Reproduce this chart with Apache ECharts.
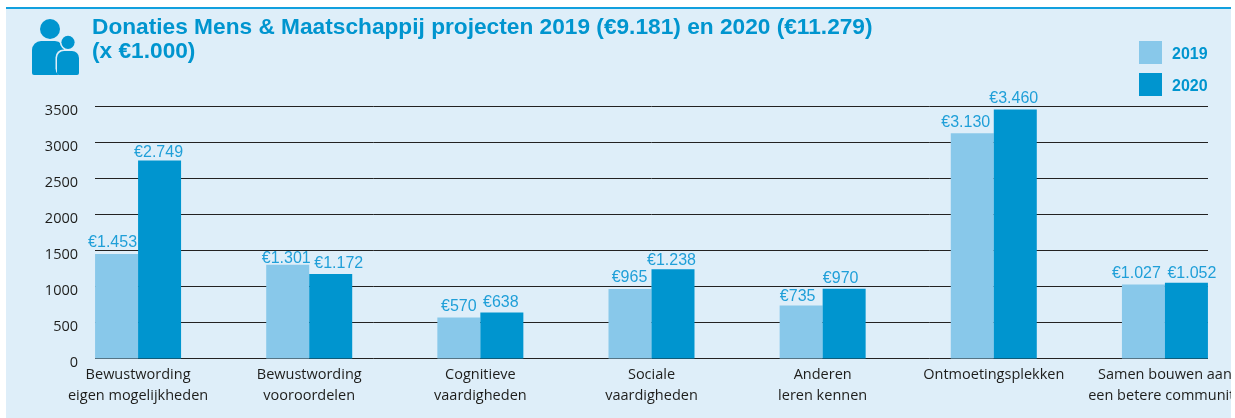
<!DOCTYPE html>
<html><head><meta charset="utf-8">
<style>html,body{margin:0;padding:0;background:#fff}#c{width:1235px;height:418px}</style>
<script src="https://cdn.jsdelivr.net/npm/echarts@6/dist/echarts.min.js"></script>
</head><body><div id="c"></div>
<script>
const categories = ['Bewustwording\neigen mogelijkheden','Bewustwording\nvooroordelen','Cognitieve\nvaardigheden','Sociale\nvaardigheden','Anderen\nleren kennen','Ontmoetingsplekken','Samen bouwen aan\neen betere community'];
const values2019 = [1453,1301,570,965,735,3130,1027];
const values2020 = [2749,1172,638,1238,970,3460,1052];
const labelShift2019 = [[-4,0],[-1.5,5],[0,0],[-0.5,0],[-3.5,2],[-6.5,0],[-7,0]];
const labelShift2020 = [[-1,3],[8,0],[-1,1],[-1.5,2],[-3.5,1],[-1.5,0],[5.5,2]];
const titleText = 'Donaties Mens & Maatschappij projecten 2019 (€9.181) en 2020 (€11.279)\n(x €1.000)';

const PANEL='#DEEEF9', LIGHT='#88C8EA', DARK='#0095CF', LABEL='#1F9FD8', INK='#1d1d1b';
const euro = v => '€' + (v >= 1000 ? Math.floor(v/1000) + '.' + String(v%1000).padStart(3,'0') : v);
const mk = (vals, shifts) => vals.map((v,i)=>({value:v,label:{offset:shifts[i]}}));
const series = (name, vals, shifts, color) => ({
  name, type:'bar', xAxisIndex:0, yAxisIndex:0, data:mk(vals,shifts), barWidth:43, barGap:0,
  itemStyle:{color}, z:3,
  label:{show:true,position:'top',distance:3,color:LABEL,fontFamily:'Liberation Sans',fontSize:16,
    formatter:p=>euro(p.value)}
});
const chart = echarts.init(document.getElementById('c'),null,{renderer:'canvas'});
chart.setOption({
  animation:false,
  backgroundColor:'#fff',
  title:{text:titleText,left:87,top:10,textStyle:{color:DARK,fontFamily:'Liberation Sans',fontWeight:'bold',fontSize:22.7,lineHeight:24.5}},
  legend:{orient:'vertical',left:1134,top:36,itemWidth:23,itemHeight:23,itemGap:9,icon:'rect',
    formatter:n=>'{a|'+n+'}',
    textStyle:{rich:{a:{color:DARK,fontFamily:'Liberation Sans',fontWeight:'bold',fontSize:16,padding:[4,0,0,5]}}},data:['2019','2020']},
  grid:[
    {left:52.5,top:106.5,width:1198,height:252,outerBoundsMode:'none'},
    {left:95,top:106.5,width:1113,height:252,outerBoundsMode:'none'}
  ],
  xAxis:[
    {type:'category',gridIndex:0,data:categories,axisLine:{show:false},axisTick:{show:false},
      axisLabel:{interval:0,margin:6,color:INK,fontFamily:'Open Sans',fontSize:14.5,lineHeight:21,hideOverlap:false}},
    {type:'value',gridIndex:1,show:false,min:0,max:1}
  ],
  yAxis:[
    {type:'value',gridIndex:0,min:0,max:3500,interval:500,show:false},
    {type:'value',gridIndex:1,min:0,max:3500,interval:500,axisLine:{show:false},axisTick:{show:false},
      splitLine:{show:true,lineStyle:{color:'#222',width:1}},
      axisLabel:{margin:17,color:INK,fontFamily:'Open Sans',fontSize:14.5,verticalAlign:'top',lineHeight:8,formatter:v=>String(v)}}
  ],
  series:[series('2019',values2019,labelShift2019,LIGHT),series('2020',values2020,labelShift2020,DARK)],
  graphic:[
    {type:'rect',silent:true,z:-10,zlevel:0,shape:{x:6,y:8,width:1225,height:410},style:{fill:PANEL}},
    {type:'rect',silent:true,z:-9,shape:{x:6,y:7,width:1225,height:2},style:{fill:'#12A0DE'}},
    {type:'rect',silent:true,z:50,shape:{x:1231,y:0,width:4,height:418},style:{fill:'#fff'}},
    {type:'circle',silent:true,z:5,shape:{cx:50,cy:29,r:10},style:{fill:DARK}},
    {type:'rect',silent:true,z:5,shape:{x:32,y:41,width:32,height:34,r:[9,9,2,2]},style:{fill:DARK}},
    {type:'rect',silent:true,z:6,shape:{x:55.5,y:49.5,width:25,height:27,r:8},style:{fill:PANEL}},
    {type:'circle',silent:true,z:6,shape:{cx:68,cy:42.3,r:8.2},style:{fill:PANEL}},
    {type:'circle',silent:true,z:7,shape:{cx:68,cy:42.3,r:6.6},style:{fill:DARK}},
    {type:'rect',silent:true,z:7,shape:{x:57,y:51,width:22,height:24,r:[7,7,2,2]},style:{fill:DARK}}
  ]
});
</script></body></html>
